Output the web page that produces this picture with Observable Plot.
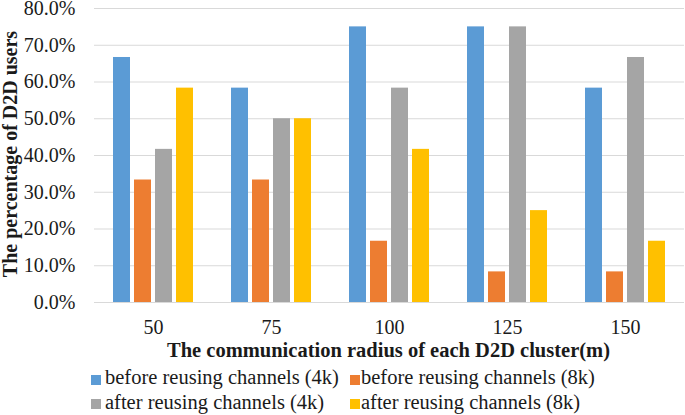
<!DOCTYPE html>
<html><head><meta charset="utf-8">
<script src="https://cdn.jsdelivr.net/npm/d3@7"></script>
<script src="https://cdn.jsdelivr.net/npm/@observablehq/plot@0.6"></script>
<style>
body{margin:0;background:#fff;}
#wrap{position:relative;width:685px;height:415px;overflow:hidden;font-family:"Liberation Serif","Times New Roman",serif;color:#1a1a1a;}
#chart{position:absolute;left:0;top:0;}
#ytitle{position:absolute;left:9.5px;top:154px;transform:translate(-50%,-50%) rotate(-90deg);white-space:nowrap;font-weight:bold;font-size:20px;line-height:20px;}
#xtitle{position:absolute;left:92px;width:593px;top:340px;text-align:center;white-space:nowrap;font-weight:bold;font-size:20.5px;line-height:20px;}
.lg{position:absolute;white-space:nowrap;font-size:20.5px;line-height:25px;}
.sw{position:absolute;width:10px;height:9.5px;}
</style></head><body>
<div id="wrap">
  <div id="chart"></div>
  <div id="ytitle">The percentage of D2D users</div>
  <div id="xtitle">The communication radius of each D2D cluster(m)</div>
  <div id="legend"></div>
</div>
<script>
const categories = ["50", "75", "100", "125", "150"];
const seriesNames = ["before reusing channels (4k)", "before reusing channels (8k)", "after reusing channels (4k)", "after reusing channels (8k)"];
const colors = ["#5B9BD5", "#ED7D31", "#A5A5A5", "#FFC000"];
const before4k = [66.67, 58.33, 75.0, 75.0, 58.33];
const before8k = [33.33, 33.33, 16.67, 8.33, 8.33];
const after4k = [41.67, 50.0, 58.33, 75.0, 66.67];
const after8k = [58.33, 50.0, 41.67, 25.0, 16.67];
const yTicks = [0, 10, 20, 30, 40, 50, 60, 70, 80];

const seriesValues = [before4k, before8k, after4k, after8k];
const table = [];
categories.forEach((c, i) => seriesNames.forEach((s, j) => table.push({cat: c, series: s, value: seriesValues[j][i]})));

const chart = Plot.plot({
  width: 685,
  height: 362,
  marginTop: 8,
  marginBottom: 60,
  marginLeft: 92,
  marginRight: 0,
  style: {fontFamily: "'Liberation Serif','Times New Roman',serif", fontSize: "20px", color: "#1a1a1a", background: "#fff", overflow: "visible"},
  fx: {domain: categories, paddingInner: 0, paddingOuter: 0, label: null},
  x: {domain: seriesNames, paddingInner: 0.213, paddingOuter: 0.852, axis: null},
  y: {domain: [0, 80], label: null},
  color: {domain: seriesNames, range: colors},
  marks: [
    Plot.ruleY(yTicks, {stroke: "#d9d9d9", strokeWidth: 1}),
    Plot.barY(table, {fx: "cat", x: "series", y: "value", fill: "series"}),
    Plot.axisY(yTicks, {tickSize: 0, tickPadding: 19, tickFormat: d => d.toFixed(1) + "%", fontSize: 20, label: null}),
    Plot.axisFx({anchor: "bottom", tickSize: 0, tickPadding: 17, fontSize: 20, label: null})
  ]
});
document.getElementById("chart").appendChild(chart);

const legend = document.getElementById("legend");
const colX = [91, 350];
const textX = [105, 361];
const rowTop = [364.5, 389.5];
const swTop = [375, 399];
seriesNames.forEach((s, k) => {
  const r = Math.floor(k / 2), c = k % 2;
  const sw = document.createElement("div");
  sw.className = "sw";
  sw.style.left = colX[c] + "px";
  sw.style.top = swTop[r] + "px";
  sw.style.background = colors[k];
  legend.appendChild(sw);
  const t = document.createElement("div");
  t.className = "lg";
  t.style.left = textX[c] + "px";
  t.style.top = rowTop[r] + "px";
  t.textContent = s;
  legend.appendChild(t);
});
</script>
</body></html>
